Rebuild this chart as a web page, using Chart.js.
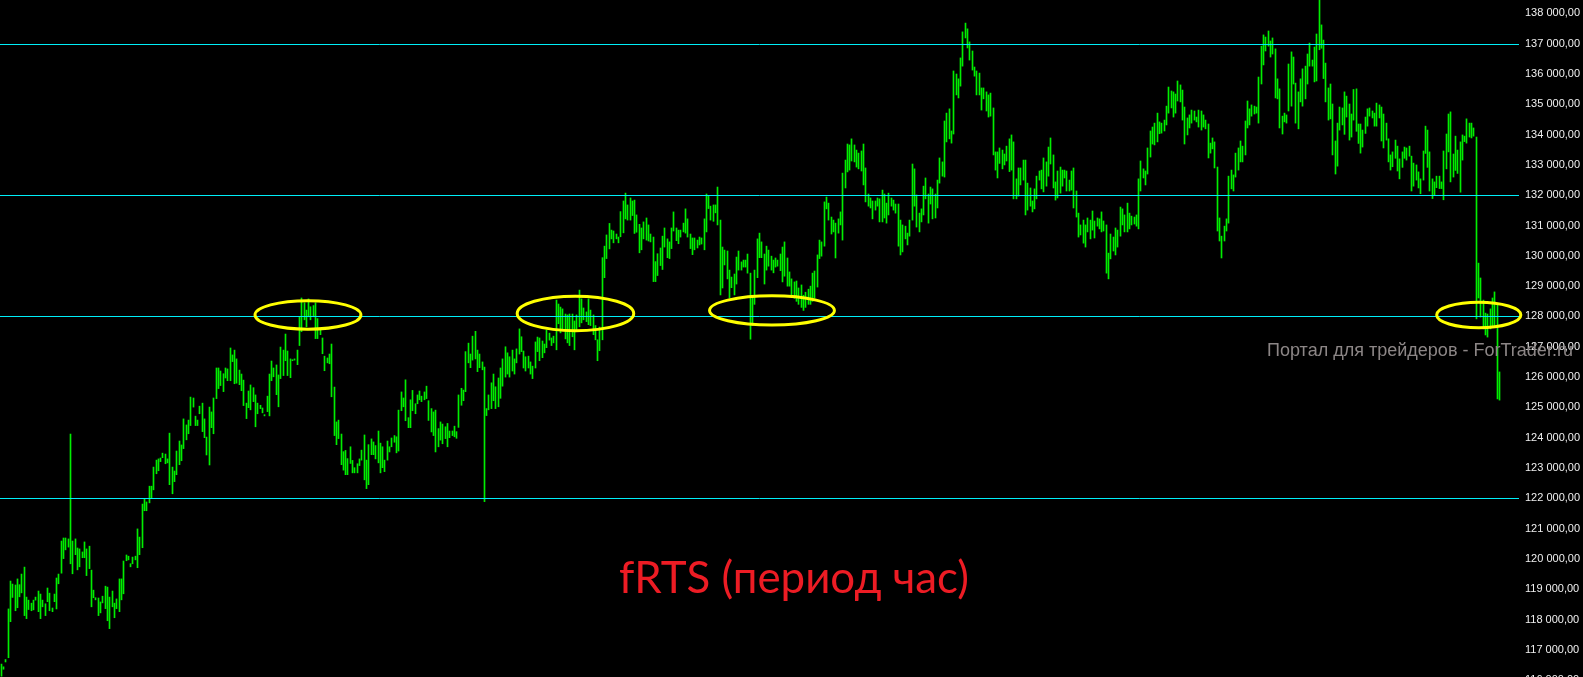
<!DOCTYPE html>
<html>
<head>
<meta charset="utf-8">
<style>
  html, body { margin: 0; padding: 0; background: #000; overflow: hidden; }
  canvas { display: block; }
</style>
<script src="https://cdn.jsdelivr.net/npm/chart.js@4.4.1/dist/chart.umd.min.js"></script>
</head>
<body>
<canvas id="chart" width="1583" height="690"></canvas>
<script>
// fRTS, hourly bars (high / low) left to right

// bars 1-108
const hi1 = [
  116530,116440,116680,118350,119270,119170,119140,119340,119150,119500,
  119730,118740,118640,118540,118640,118740,118940,118840,118640,118520,
  119040,118870,118380,118840,119370,119500,120590,120690,120690,120660,
  124120,120590,120660,120360,120330,120230,120560,120330,120420,119630,
  118970,118720,118710,118580,118770,119100,119070,118740,118940,118540,
  118680,119340,119340,119930,120130,120090,119840,120060,120090,120990,
  120720,121810,122000,121880,122400,122400,123030,123260,123300,123330,
  123490,123460,123300,124150,123030,122900,123560,123890,123760,124620,
  124420,124580,125340,125310,124710,124580,125040,125140,124620,124020,
  125010,124850,125310,126300,126300,126200,126110,126300,126270,126960,
  126730,126890,126600,126230,126100,125900,125140,125540];
const lo1 = [
  116130,116360,116600,116740,117930,118730,118290,118390,118750,118880,
  118130,118030,118330,118290,118320,118640,118260,118030,118420,118130,
  118590,118290,118260,118590,118350,119180,119530,120010,120300,120390,
  119840,119510,120140,119640,119740,120040,120040,119450,119680,118420,
  118720,118650,118130,118220,118550,118360,117960,117700,118420,118060,
  118360,118260,118650,118850,119940,119970,119740,119840,119970,119710,
  120140,120370,121590,121590,121850,122000,122280,122810,122910,123210,
  123340,123140,123170,122450,122150,122550,122780,123110,123240,123640,
  123930,124130,124400,125010,124400,124400,124790,124200,124000,123430,
  123100,124330,124130,125290,125620,125720,125520,125970,125880,125880,
  126510,125780,125800,125750,125550,125060,124630,124990];

// bars 109-216
const hi2 = [
  125740,125650,125410,125140,125070,124980,124760,125370,126100,126530,
  126300,126400,126070,126990,126890,127420,126860,126600,126570,126600,
  126890,127990,128610,128450,128210,128580,128320,128360,128450,127930,
  127600,127290,126690,126630,126760,127090,125670,124520,124580,124120,
  123540,123580,123310,123700,123250,123010,123140,123300,123590,124090,
  123260,123770,123960,123860,123740,124220,123820,123700,123260,123890,
  123700,123990,124070,124030,124910,125510,125310,125910,124660,125250,
  125560,125120,125410,125540,125370,125510,125700,125220,124960,124850,
  124910,124300,124520,124450,124360,124470,124220,124220,124380,124200,
  125410,125630,125570,126840,127120,126760,127350,127510,126890,126760,
  126500,126330,124960,125410,125810,126100,125680,125970];
const lo2 = [
  124920,125190,124360,124790,124960,124820,124720,124860,124720,125880,
  126010,125420,125020,125950,126050,126540,126050,125980,126540,126560,
  126410,127040,127500,127890,127660,127990,127890,127990,127270,127270,
  127400,126770,126210,126470,126440,125350,124070,123770,123970,123110,
  122930,122780,122780,123150,122840,122840,122840,123080,123260,122610,
  122320,122450,123440,123440,123300,123170,122840,123010,122880,123260,
  123530,123700,123850,123500,123560,124890,125020,124560,124330,124330,
  124890,124790,125120,125250,125190,125250,125290,124570,124190,124070,
  123530,123700,123920,123800,123970,123700,124000,124070,124030,123980,
  124340,125070,125220,125520,126470,126310,126560,126600,126180,126310,
  126240,121890,124730,124920,124960,125220,124960,125020];

// bars 217-324
const hi3 = [
  126300,126600,127000,126800,126670,126890,126600,126930,127590,127330,
  126860,126670,126690,126500,126360,127160,127320,127290,127190,127090,
  127550,127450,127290,127350,128540,128410,128310,128250,128080,128050,
  128080,128080,127850,128050,128870,128580,128280,128150,128580,128210,
  128050,127700,127230,127650,129940,130320,130690,131070,130850,130820,
  130720,130620,131460,131810,132070,131680,131910,131810,131840,131350,
  131040,130920,131120,131250,131020,130720,130620,129810,130070,130260,
  130650,130920,130560,130460,130920,131450,130920,130850,130850,131080,
  131550,131220,130720,130590,130590,130520,130620,130590,131220,132040,
  131970,131640,131680,131680,132270,131180,130290,130190,130160,129530,
  129300,129400,129960,130160,129800,129860,129860,130060];
const lo3 = [
  125300,125700,126000,126100,126000,126200,126100,126470,126760,126840,
  126300,126200,126300,126100,125950,126300,126840,126540,126640,126800,
  126970,127220,127040,127130,126900,127760,127460,127530,127260,127130,
  127040,127330,126900,127550,127660,127790,127890,127830,127730,127700,
  127400,127230,126540,126870,127230,129280,129910,130230,130560,130430,
  130560,130430,130630,130760,131220,131180,131180,131330,130740,130780,
  130100,130200,130560,130520,130490,130460,129150,129150,129350,129680,
  129550,130290,129940,129910,130240,130820,130500,130400,130620,130790,
  130750,130620,130240,130040,130200,130260,130360,130390,130200,130790,
  131560,131180,131140,131420,131020,128710,128940,129700,129240,128610,
  128950,128710,129070,129530,129530,129630,129630,129430];

// bars 325-432
const hi4 = [
  129430,128700,129530,130560,130750,130460,130060,130320,130190,129990,
  129860,129930,129860,130060,130290,130460,129930,129470,129240,129140,
  129170,128940,129040,128700,128800,128900,129000,129430,129500,130030,
  130520,130460,131780,131940,131740,131280,131180,131080,131220,131450,
  132730,133160,133690,133660,133860,133660,133490,133390,133460,133690,
  132900,132040,131910,131810,131810,131910,131880,132170,132040,131740,
  132070,131910,131840,131710,131710,131180,131020,130980,130750,131180,
  133030,132870,132010,131410,131550,132300,132570,132040,132270,132210,
  132040,132500,133230,133100,134450,134710,134850,134120,136100,136000,
  135840,136530,137390,137680,137490,137060,136760,136230,136100,136030,
  135540,135540,135410,135310,135370,134880,133430,133430];
const lo4 = [
  127250,127700,128400,129280,129940,129940,129070,129530,129660,129530,
  129440,129630,129660,129510,129140,129330,129000,129000,128700,128600,
  128500,128400,128300,128200,128300,128400,128400,128500,128600,128970,
  129910,129990,130320,131550,131180,130720,130790,129930,130750,131020,
  130520,132240,132770,132830,133130,133100,132930,132870,132800,132340,
  131780,131640,131580,131220,131510,131640,131120,131120,131250,131080,
  131350,131640,131510,131410,130320,130030,130130,130560,130360,130650,
  131180,131640,130950,130790,131120,131350,131880,131080,131710,131220,
  131250,131580,132400,132630,132600,133760,133860,133720,134020,135310,
  135210,135600,136260,137190,136860,136460,136130,135930,135310,135310,
  134810,135180,134780,134580,134610,133330,132830,132570];

// bars 433-541
const hi5 = [
  133560,133490,133360,133620,133860,133990,133760,132540,132900,132900,
  133160,133160,132400,132240,131810,132210,132630,132800,132830,133230,
  133100,133590,133890,133330,132440,132800,132930,132830,132830,132800,
  132500,132800,132900,132140,131410,131020,131180,131020,131250,131180,
  131480,131150,131250,131220,131450,131150,131020,130090,130720,130620,
  130920,130850,131610,131550,131350,131740,131410,131310,131280,131350,
  132540,133130,132870,132800,133560,134120,134250,134380,134710,134420,
  134380,134480,134940,135570,135440,135410,135340,135770,135640,135470,
  134910,134550,134650,134810,134780,134580,134810,134780,134650,134480,
  134350,133720,133890,133760,132930,131250,130650,130980,131220,132630,
  132830,132670,133390,133560,133790,133620,134450,135110,134850];
const lo5 = [
  133050,132870,133000,133130,132780,132830,131880,131880,131970,132340,
  132500,131350,131510,131640,131450,131550,131880,132500,132210,132110,
  132300,132630,133030,132240,131840,131910,132070,132300,132570,132140,
  132140,132170,131580,131280,130620,130690,130420,130290,130790,130560,
  130850,130590,130980,130890,130790,130820,129430,129240,129900,130160,
  130030,130290,130650,131020,130790,130790,130890,131020,131050,130980,
  130890,132140,132570,132340,132700,133260,133690,133660,133760,134030,
  134050,134120,134320,134710,134880,134580,134710,135110,135080,134480,
  133690,133990,134220,134380,134480,134420,134250,134150,134250,134190,
  133230,133390,133530,132900,130820,130490,129930,130490,130820,131080,
  132210,132140,132600,132830,133100,133100,133330,134220,134320];

// bars 542-649
const hi6 = [
  134980,134940,134910,135900,136920,137290,137220,137420,137090,137190,
  136830,135840,135510,134610,134710,134650,136330,136730,136560,135700,
  135410,135840,136170,136260,136660,137020,136460,136890,137320,138450,
  137620,137120,136360,135540,135670,135010,133790,134380,134910,134880,
  135410,135270,135010,134680,135490,135510,134350,134350,134150,134580,
  134850,134880,134780,134710,135040,134980,134910,134680,134380,133860,
  133330,133430,133820,133620,133200,133430,133590,133560,133620,133290,
  133060,133000,132770,132540,133460,134280,134150,133430,132540,132440,
  132630,132630,132440,133460,134020,134680,134750,133360,133950,133490,
  133760,133990,133950,134520,134380,134380,134220,133920,129760,129270,
  128540,128110,128080,128250,128610,128810,128380,126170];
const lo6 = [
  134610,134680,134710,134380,135670,136300,136760,136920,136560,136660,
  135210,135180,134220,134020,134420,134380,134780,134940,135670,134380,
  134190,135080,134940,135180,135670,136260,136260,135740,135770,136800,
  136850,135850,135080,134480,134520,133330,132700,132960,134150,134320,
  134010,134580,133820,133920,134480,134110,133710,133390,133590,134040,
  134280,134610,134550,134280,134280,134550,133790,133560,133820,133100,
  132830,132940,133220,132800,132540,132920,133220,133160,133290,132140,
  132300,132500,132240,132050,132500,133380,132920,132140,131890,131990,
  132250,132220,132220,131850,132870,133430,132440,132600,132820,132720,
  132100,133160,133770,133720,133920,133890,133950,127920,128610,127980,
  127590,127390,127320,127590,127650,127680,125280,125240];

const highs = [].concat(hi1, hi2, hi3, hi4, hi5, hi6);
const lows  = [].concat(lo1, lo2, lo3, lo4, lo5, lo6);

// empty slots to the right of the last bar
const SLOTS = 657;

// horizontal levels
const levels = [122000, 128000, 132000, 137000];

// yellow ellipses: centre (bar index, price), half width in bars, half height in price
const ellBar    = [132.7, 248.4, 333.4, 639.1];
const ellPrice  = [128050, 128100, 128200, 128050];
const ellHalfW  = [22.9, 25.2, 27.0, 18.2];
const ellHalfH  = [470, 570, 480, 420];

// right axis
const tickValues = [];
for (let v = 116000; v <= 138000; v += 1000) tickValues.push(v);

const Y_MAX = 138442, Y_MIN = 115675;

const TITLE = "fRTS (период час)";
const WATERMARK = "Портал для трейдеров - ForTrader.ru";

const fmt = v => String(v).replace(/\B(?=(\d{3})+(?!\d))/g, " ") + ",00";

const labels = Array.from({ length: SLOTS }, (_, i) => i);
const bars = labels.map(i => (i < highs.length ? [lows[i], highs[i]] : null));

const overlay = {
  id: "overlay",
  afterDatasetsUpdate(chart) {
    // snap 1px bars to whole pixels
    chart.getDatasetMeta(0).data.forEach(el => {
      el.x = Math.floor(el.x) + 0.5;
      el.width = 1;
    });
  },
  afterDatasetsDraw(chart) {
    const { ctx, chartArea: a, scales: { x, y } } = chart;
    ctx.save();
    ctx.strokeStyle = "#00eef8";
    ctx.lineWidth = 1;
    levels.forEach(v => {
      const py = Math.round(y.getPixelForValue(v)) + 0.5;
      ctx.beginPath();
      ctx.moveTo(a.left, py);
      ctx.lineTo(a.right, py);
      ctx.stroke();
    });
    ctx.strokeStyle = "#ffff00";
    ctx.lineWidth = 3;
    ellBar.forEach((b, i) => {
      const cx = x.getPixelForValue(b);
      const cy = y.getPixelForValue(ellPrice[i]);
      const rx = x.getPixelForValue(b + ellHalfW[i]) - cx;
      const ry = y.getPixelForValue(ellPrice[i] - ellHalfH[i]) - cy;
      ctx.beginPath();
      ctx.ellipse(cx, cy, rx, ry, 0, 0, Math.PI * 2);
      ctx.stroke();
    });
    ctx.restore();
  },
  afterDraw(chart) {
    const ctx = chart.ctx;
    ctx.save();
    // title
    let size = 44;
    ctx.font = `${size}px Lato`;
    size = size * 350 / ctx.measureText(TITLE).width;
    ctx.font = `${size}px Lato`;
    ctx.fillStyle = "#ed1c24";
    ctx.textBaseline = "alphabetic";
    ctx.textAlign = "left";
    ctx.fillText(TITLE, 619, 593);
    // watermark
    let ws = 18;
    ctx.font = `${ws}px "Liberation Sans"`;
    ws = ws * 306 / ctx.measureText(WATERMARK).width;
    ctx.font = `${ws}px "Liberation Sans"`;
    ctx.fillStyle = "#8c8686";
    ctx.fillText(WATERMARK, 1267, 356);
    ctx.restore();
  },
};

new Chart(document.getElementById("chart"), {
  type: "bar",
  data: {
    labels,
    datasets: [{
      data: bars,
      backgroundColor: "#00ee00",
      borderWidth: 0,
      barThickness: 1,
      minBarLength: 1,
    }],
  },
  options: {
    responsive: false,
    animation: false,
    events: [],
    layout: { padding: 0 },
    plugins: { legend: { display: false }, tooltip: { enabled: false } },
    scales: {
      x: { display: false, offset: true },
      y: {
        position: "right",
        min: Y_MIN,
        max: Y_MAX,
        grid: { display: false, drawTicks: false },
        border: { display: false },
        afterBuildTicks: s => { s.ticks = tickValues.map(v => ({ value: v })); },
        afterFit: s => { s.width = 64; s.paddingTop = 0; s.paddingBottom = 0; },
        ticks: {
          padding: 6,
          color: "#f0f0f0",
          font: { family: "Liberation Sans", size: 11 },
          callback: v => fmt(v),
        },
      },
    },
  },
  plugins: [overlay],
});
</script>
</body>
</html>
